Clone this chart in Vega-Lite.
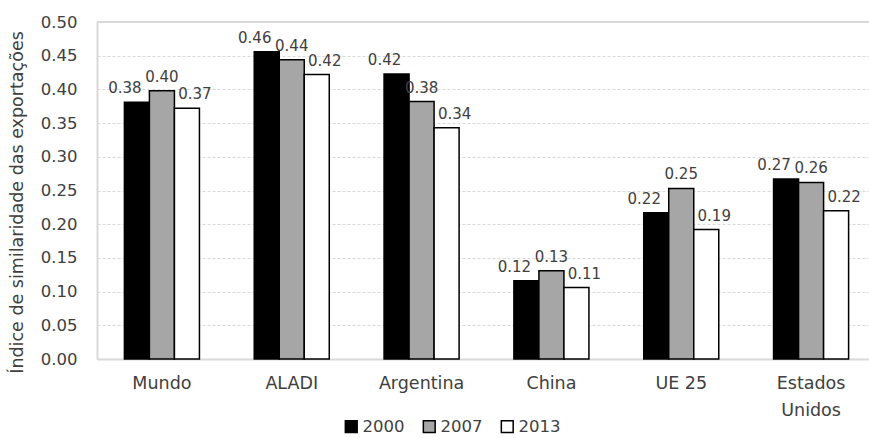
{
  "$schema": "https://vega.github.io/schema/vega-lite/v6.json",
  "width": 772,
  "height": 337,
  "autosize": {"type": "none"},
  "padding": {"left": 97, "top": 22, "right": 0, "bottom": 79},
  "background": "white",
  "config": {
    "font": "DejaVu Sans",
    "view": {"stroke": null},
    "axis": {"labelFont": "DejaVu Sans", "titleFont": "DejaVu Sans"},
    "legend": {"labelFont": "DejaVu Sans"}
  },
  "data": {
    "values": [
      {"pais": "Mundo", "ano": "2000", "valor": 0.381},
      {"pais": "Mundo", "ano": "2007", "valor": 0.398},
      {"pais": "Mundo", "ano": "2013", "valor": 0.372},
      {"pais": "ALADI", "ano": "2000", "valor": 0.456},
      {"pais": "ALADI", "ano": "2007", "valor": 0.444},
      {"pais": "ALADI", "ano": "2013", "valor": 0.422},
      {"pais": "Argentina", "ano": "2000", "valor": 0.423},
      {"pais": "Argentina", "ano": "2007", "valor": 0.382},
      {"pais": "Argentina", "ano": "2013", "valor": 0.343},
      {"pais": "China", "ano": "2000", "valor": 0.116},
      {"pais": "China", "ano": "2007", "valor": 0.131},
      {"pais": "China", "ano": "2013", "valor": 0.106},
      {"pais": "UE 25", "ano": "2000", "valor": 0.217},
      {"pais": "UE 25", "ano": "2007", "valor": 0.253},
      {"pais": "UE 25", "ano": "2013", "valor": 0.192},
      {"pais": "Estados Unidos", "ano": "2000", "valor": 0.267},
      {"pais": "Estados Unidos", "ano": "2007", "valor": 0.262},
      {"pais": "Estados Unidos", "ano": "2013", "valor": 0.220}
    ]
  },
  "encoding": {
    "x": {
      "field": "pais",
      "type": "nominal",
      "sort": ["Mundo", "ALADI", "Argentina", "China", "UE 25", "Estados Unidos"],
      "scale": {"range": [0, 779], "paddingInner": 0.422, "paddingOuter": 0.211},
      "axis": {
        "title": null,
        "labelAngle": 0,
        "labelFontSize": 17.5,
        "labelColor": "#404040",
        "labelPadding": 15,
        "labelLineHeight": 27,
        "labelExpr": "datum.label == 'Estados Unidos' ? ['Estados', 'Unidos'] : datum.label",
        "ticks": false,
        "domainColor": "#d9d9d9",
        "domainWidth": 2,
        "grid": false
      }
    },
    "xOffset": {
      "field": "ano",
      "type": "nominal",
      "sort": ["2000", "2007", "2013"]
    },
    "y": {
      "field": "valor",
      "type": "quantitative",
      "scale": {"domain": [0, 0.5], "nice": false},
      "axis": {
        "title": "Índice de similaridade das exportações",
        "titleFontSize": 17.5,
        "titleFontWeight": "normal",
        "titleColor": "#404040",
        "titlePadding": 14,
        "titleY": 180,
        "values": [0, 0.05, 0.1, 0.15, 0.2, 0.25, 0.3, 0.35, 0.4, 0.45, 0.5],
        "format": ".2f",
        "labelFontSize": 16.5,
        "labelColor": "#404040",
        "labelPadding": 20,
        "ticks": false,
        "domainColor": "#d9d9d9",
        "domainWidth": 2,
        "gridColor": "#d9d9d9",
        "gridDash": [3, 2],
        "gridWidth": 1
      }
    }
  },
  "layer": [
    {
      "mark": {"type": "bar", "stroke": "black", "strokeWidth": 1.5},
      "encoding": {
        "color": {
          "field": "ano",
          "type": "nominal",
          "scale": {"domain": ["2000", "2007", "2013"], "range": ["#000000", "#a6a6a6", "#ffffff"]},
          "legend": {
            "title": null,
            "orient": "none",
            "legendX": 246,
            "legendY": 396,
            "direction": "horizontal",
            "symbolType": "square",
            "symbolSize": 140,
            "symbolStrokeColor": "black",
            "symbolStrokeWidth": 1.5,
            "labelFontSize": 16.5,
            "labelColor": "#404040",
            "labelOffset": 3,
            "columnPadding": 15
          }
        }
      }
    },
    {
      "transform": [{"filter": "datum.ano == '2000'"}],
      "mark": {"type": "text", "baseline": "alphabetic", "dy": -9, "dx": -12, "fontSize": 15, "color": "#404040"},
      "encoding": {
        "text": {"field": "valor", "type": "quantitative", "format": ".2f"}
      }
    },
    {
      "transform": [{"filter": "datum.ano == '2007'"}],
      "mark": {"type": "text", "baseline": "alphabetic", "dy": -9, "dx": 0, "fontSize": 15, "color": "#404040"},
      "encoding": {
        "text": {"field": "valor", "type": "quantitative", "format": ".2f"}
      }
    },
    {
      "transform": [{"filter": "datum.ano == '2013'"}],
      "mark": {"type": "text", "baseline": "alphabetic", "dy": -9, "dx": 8, "fontSize": 15, "color": "#404040"},
      "encoding": {
        "text": {"field": "valor", "type": "quantitative", "format": ".2f"}
      }
    },
    {
      "mark": {"type": "rule", "color": "#d9d9d9", "strokeWidth": 2},
      "encoding": {
        "y": {"datum": 0.5},
        "x": null,
        "xOffset": null
      }
    }
  ]
}
